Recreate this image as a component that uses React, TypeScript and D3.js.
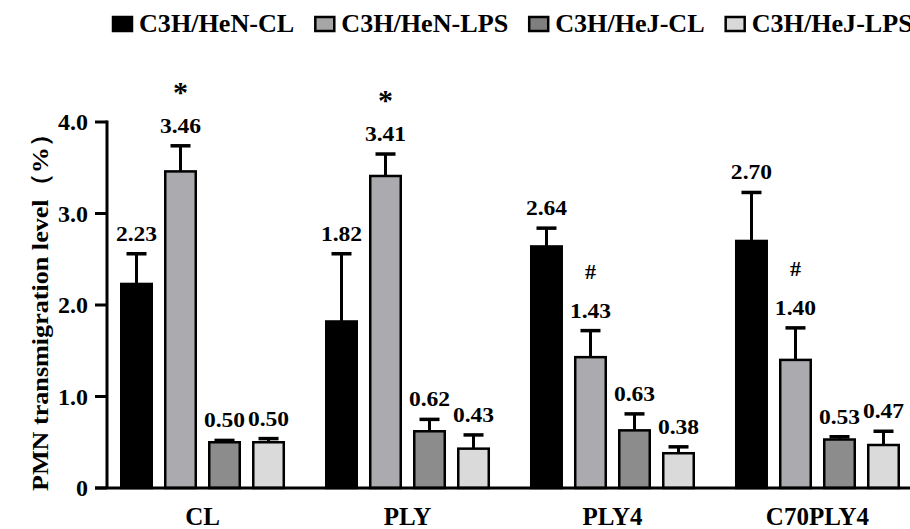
import React, { useRef, useEffect } from "react";
import * as d3 from "d3";

// Data
const groups = ["CL", "PLY", "PLY4", "C70PLY4"];
const seriesNames = ["C3H/HeN-CL", "C3H/HeN-LPS", "C3H/HeJ-CL", "C3H/HeJ-LPS"];
const seriesColors = ["#000000", "#ababaf", "#8c8c8c", "#dadada"];
const legendColors = ["#000000", "#a6a6a6", "#7f7f7f", "#d9d9d9"];

const henCL = [2.23, 1.82, 2.64, 2.70];
const henLPS = [3.46, 3.41, 1.43, 1.40];
const hejCL = [0.50, 0.62, 0.63, 0.53];
const hejLPS = [0.50, 0.43, 0.38, 0.47];

const henCLErr = [0.33, 0.74, 0.20, 0.53];
const henLPSErr = [0.28, 0.24, 0.29, 0.35];
const hejCLErr = [0.02, 0.13, 0.18, 0.03];
const hejLPSErr = [0.04, 0.15, 0.07, 0.15];

const yTicks = [0, 1, 2, 3, 4];

// significance marks drawn above the LPS bars
const sigGroups = ["CL", "PLY", "PLY4", "C70PLY4"];
const sigMarks = ["*", "*", "#", "#"];

const allValues = [henCL, henLPS, hejCL, hejLPS];
const allErrors = [henCLErr, henLPSErr, hejCLErr, hejLPSErr];

const W = 910, H = 529;
const FONT = "'Liberation Serif', 'Times New Roman', serif";

// the source figure's lettering is a little wider than Times, so stretch it
const stretch = (sel, k) => sel.each(function () {
  const len = this.getComputedTextLength();
  d3.select(this).attr("textLength", len * k).attr("lengthAdjust", "spacingAndGlyphs");
});

const App = () => {
  const svgRef = useRef(null);

  useEffect(() => {
    const svg = d3.select(svgRef.current);
    svg.selectAll("*").remove();

    // Scales
    const x0 = d3.scaleBand().domain(groups).range([120, 900]).paddingInner(0.195).paddingOuter(0);
    const x1 = d3.scaleBand().domain(seriesNames).range([0, x0.bandwidth()]).paddingInner(0.25).paddingOuter(0);
    const y = d3.scaleLinear().domain([0, 4]).range([488, 122]);
    const axisX = 107;

    const rows = [];
    groups.forEach((g, gi) => {
      seriesNames.forEach((s, si) => {
        rows.push({ g, s, si, v: allValues[si][gi], e: allErrors[si][gi] });
      });
    });

    const bars = svg.append("g");
    const cx = d => x0(d.g) + x1(d.s) + x1.bandwidth() / 2;

    // Error bars (behind the bars)
    const err = bars.selectAll(".err").data(rows).join("g").attr("class", "err");
    err.append("line")
      .attr("x1", cx).attr("x2", cx)
      .attr("y1", d => y(d.v))
      .attr("y2", d => y(d.v + d.e))
      .attr("stroke", "#000").attr("stroke-width", 3);
    err.append("line")
      .attr("x1", d => cx(d) - 10)
      .attr("x2", d => cx(d) + 10)
      .attr("y1", d => y(d.v + d.e))
      .attr("y2", d => y(d.v + d.e))
      .attr("stroke", "#000").attr("stroke-width", 3.5);

    // Bars
    bars.selectAll(".bar").data(rows).join("rect")
      .attr("class", "bar")
      .attr("x", d => x0(d.g) + x1(d.s) + 1.25)
      .attr("width", x1.bandwidth() - 2.5)
      .attr("y", d => y(d.v))
      .attr("height", d => y(0) - y(d.v))
      .attr("fill", d => seriesColors[d.si])
      .attr("stroke", "#000")
      .attr("stroke-width", 2.5);

    // Value labels
    bars.selectAll(".val").data(rows).join("text")
      .attr("class", "val")
      .attr("x", cx)
      .attr("y", d => y(d.v + d.e) - 13)
      .attr("text-anchor", "middle")
      .attr("font-family", FONT).attr("font-weight", "bold").attr("font-size", 22)
      .text(d => d.v.toFixed(2))
      .call(stretch, 1.07);

    // Significance marks
    sigGroups.forEach((g, i) => {
      const gi = groups.indexOf(g);
      const v = henLPS[gi] + henLPSErr[gi];
      const mx = x0(g) + x1(seriesNames[1]) + x1.bandwidth() / 2;
      const center = y(v) - 20 - 39;
      const isStar = sigMarks[i] === "*";
      const fs = isStar ? 30 : 22;
      svg.append("text")
        .attr("x", mx)
        .attr("y", center + (isStar ? 0.5 * fs : 0.34 * fs))
        .attr("text-anchor", "middle")
        .attr("font-family", FONT).attr("font-weight", "bold").attr("font-size", fs)
        .text(sigMarks[i]);
    });

    // Y axis
    const yAxis = svg.append("g");
    yAxis.append("line").attr("x1", axisX).attr("x2", axisX).attr("y1", y(4) - 1.5).attr("y2", y(0))
      .attr("stroke", "#000").attr("stroke-width", 3);
    yAxis.selectAll(".tick").data(yTicks).join("line")
      .attr("x1", axisX - 12).attr("x2", axisX)
      .attr("y1", d => y(d)).attr("y2", d => y(d))
      .attr("stroke", "#000").attr("stroke-width", 3);
    yAxis.selectAll(".tl").data(yTicks).join("text")
      .attr("x", axisX - 19)
      .attr("y", d => y(d) + 8)
      .attr("text-anchor", "end")
      .attr("font-family", FONT).attr("font-weight", "bold").attr("font-size", 24)
      .text(d => (d === 0 ? "0" : d3.format(".1f")(d)));

    // X axis
    svg.append("line").attr("x1", axisX - 12).attr("x2", W).attr("y1", y(0)).attr("y2", y(0))
      .attr("stroke", "#000").attr("stroke-width", 3);
    svg.selectAll(".xl").data(groups).join("text")
      .attr("class", "xl")
      .attr("x", d => x0(d) + x0.bandwidth() / 2)
      .attr("y", 525)
      .attr("text-anchor", "middle")
      .attr("font-family", FONT).attr("font-weight", "bold").attr("font-size", 25)
      .text(d => d);

    // Y title
    svg.append("text")
      .attr("transform", `translate(48, ${(y(0) + y(4)) / 2 + 1}) rotate(-90)`)
      .attr("text-anchor", "middle")
      .attr("font-family", FONT).attr("font-weight", "bold").attr("font-size", 24)
      .attr("textLength", 370).attr("lengthAdjust", "spacingAndGlyphs")
      .text("PMN transmigration level（%）");

    // Legend
    const legend = svg.append("g");
    let lx = 112;
    seriesNames.forEach((s, i) => {
      legend.append("rect")
        .attr("x", lx + 1).attr("y", 17).attr("width", 19).attr("height", 14)
        .attr("fill", legendColors[i]).attr("stroke", "#000").attr("stroke-width", 2.5);
      const t = legend.append("text")
        .attr("x", lx + 27).attr("y", 32)
        .attr("font-family", FONT).attr("font-weight", "bold").attr("font-size", 25)
        .text(s);
      const tw = t.node().getComputedTextLength() * 1.045;
      t.attr("textLength", tw).attr("lengthAdjust", "spacingAndGlyphs");
      lx = lx + 27 + tw + 20;
    });
  }, []);

  return (
    <svg ref={svgRef} width={W} height={H}
      style={{ position: "absolute", left: 0, top: 0, background: "#fff", display: "block" }} />
  );
};

export default App;
